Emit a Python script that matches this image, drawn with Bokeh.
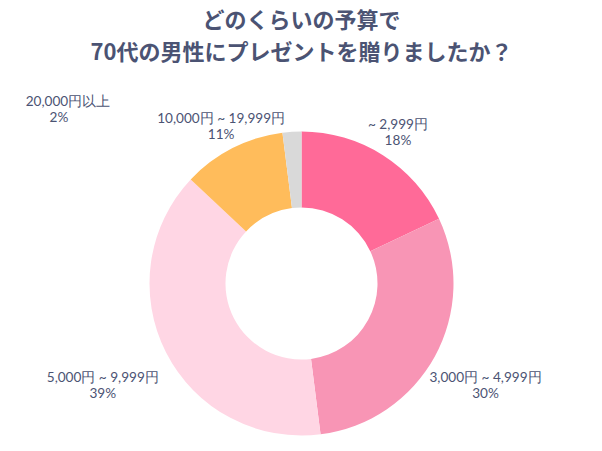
import math
from bokeh.plotting import figure
from bokeh.models import Range1d, ColumnDataSource
from bokeh.core.properties import value
from bokeh.embed import file_html
from bokeh.resources import INLINE

# ---- data ----
categories = ["~ 2,999円", "3,000円 ~ 4,999円", "5,000円 ~ 9,999円", "10,000円 ~ 19,999円", "20,000円以上"]
percents = [18, 30, 39, 11, 2]
colors = ["#FF6A98", "#F895B5", "#FFD6E4", "#FFBC5B", "#D9D9D9"]
title_lines = ["どのくらいの予算で", "70代の男性にプレゼントを贈りましたか？"]

W, H = 602, 451
p = figure(width=W, height=H, output_backend="svg", toolbar_location=None,
           x_range=Range1d(0, W), y_range=Range1d(0, H), min_border=0,
           outline_line_color=None)
p.axis.visible = False
p.grid.visible = False
p.background_fill_color = "white"
p.border_fill_color = "white"

cx, cy = 301, H - 283
outer, inner = 152, 76

total = sum(percents)
starts, ends, mids = [], [], []
acc = 0
for v in percents:
    s = math.pi / 2 - 2 * math.pi * acc / total
    acc += v
    e = math.pi / 2 - 2 * math.pi * acc / total
    starts.append(s); ends.append(e); mids.append((s + e) / 2)

src = ColumnDataSource(dict(start=starts, end=ends, color=colors))
p.annular_wedge(x=cx, y=cy, inner_radius=inner, outer_radius=outer,
                inner_radius_units="screen", outer_radius_units="screen",
                start_angle="start", end_angle="end", direction="clock",
                fill_color="color", line_color=None, source=src)

# label layout (radius from centre, extra shift) per slice
label_r = [180, 210, 223, 177, 200]
label_dx1 = [0, 0, 0, 0, -221]
label_dx2 = [0, 0, 0, 0, -230]
label_dy = [0, 0, 0, 0, -25]
lx1, lx2, ly1, ly2, l1, l2 = [], [], [], [], [], []
for i, (c, v) in enumerate(zip(categories, percents)):
    x = cx + label_r[i] * math.cos(mids[i])
    y = cy + label_r[i] * math.sin(mids[i]) + label_dy[i]
    lx1.append(x + label_dx1[i]); lx2.append(x + label_dx2[i])
    ly1.append(y + 8); ly2.append(y - 8)
    l1.append(c); l2.append(f"{v}%")

lab_color = "#4B5373"
p.text(x=lx1, y=ly1, text=l1, text_align="center", text_baseline="middle",
       text_font=value("Lato"), text_font_size="13.6px", text_color=lab_color)
p.text(x=lx2, y=ly2, text=l2, text_align="center", text_baseline="middle",
       text_font=value("Lato"), text_font_size="13.6px", text_color=lab_color)

p.text(x=[W / 2, W / 2], y=[H - 17, H - 49], text=title_lines,
       text_align="center", text_baseline="middle",
       text_font=value("Noto Sans CJK JP"), text_font_size="22px",
       text_font_style="bold", text_color="#4B5373")

open("out.html", "w").write(file_html(p, INLINE))
